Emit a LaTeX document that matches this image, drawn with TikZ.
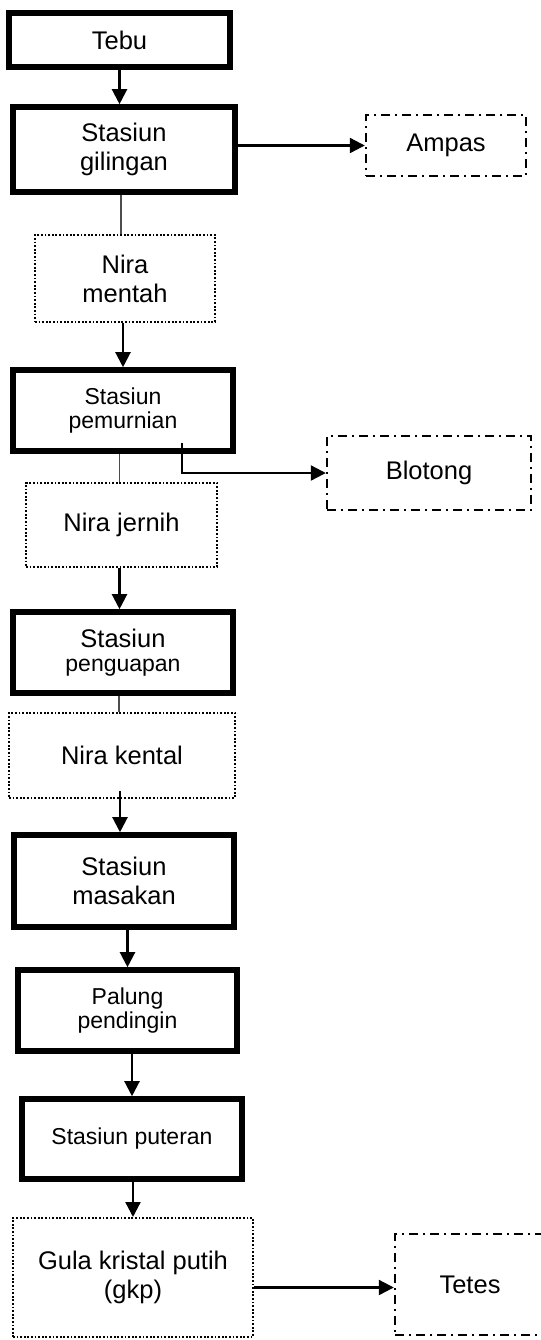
\documentclass[tikz,border=0pt]{standalone}
\usepackage{fontspec}
\setmainfont{Liberation Sans}
\usetikzlibrary{arrows.meta,calc}
\begin{document}
\begin{tikzpicture}[x=0.5pt,y=-0.5pt,
  big/.style={font=\fontsize{12.75pt}{14.5pt}\selectfont},
  small/.style={font=\fontsize{11.5pt}{12pt}\selectfont},
  stationbox/.style={draw, line width=2.8pt, align=center, inner sep=0pt},
  productbox/.style={draw, line width=1pt, dash pattern=on 0.9pt off 0.9pt, align=center, inner sep=0pt},
  wastebox/.style={draw, line width=1.2pt, dash pattern=on 4.5pt off 2.5pt on 1pt off 2.5pt, align=center, inner sep=0pt},
  arr/.style={line width=1.1pt, -{Triangle[length=7.5pt,width=7.5pt]}},
  thinline/.style={line width=0.6pt, black!70}]
\clip (0,0) rectangle (541,1340);
% stations
\node[stationbox, big, minimum width=110.5pt, minimum height=27pt] (tebu) at (119.5,40) {Tebu};
\node[stationbox, big, minimum width=111pt, minimum height=42.5pt] (gilingan) at (124,149.5) {Stasiun\\gilingan};
\node[stationbox, small, minimum width=110pt, minimum height=40.5pt] (pemurnian) at (123,410.5) {Stasiun\\pemurnian};
\node[stationbox, minimum width=110pt, minimum height=40.5pt] (penguapan) at (123,652.5) {{\fontsize{12.75pt}{14.5pt}\selectfont Stasiun}\\{\fontsize{11.5pt}{12pt}\selectfont penguapan}};
\node[stationbox, big, minimum width=110pt, minimum height=46pt] (masakan) at (124,881) {Stasiun\\masakan};
\node[stationbox, small, minimum width=109.5pt, minimum height=40.5pt] (palung) at (127.5,1010.5) {Palung\\pendingin};
\node[stationbox, small, minimum width=110pt, minimum height=40pt] (puteran) at (132,1139) {Stasiun puteran};
% products
\node[productbox, big, minimum width=90pt, minimum height=43.5pt] (mentah) at (125,278.5) {Nira\\mentah};
\node[productbox, big, minimum width=95.5pt, minimum height=42pt] (jernih) at (121.5,525) {Nira jernih};
\node[productbox, big, minimum width=113pt, minimum height=42.5pt] (kental) at (122,755.5) {Nira kental};
\node[productbox, big, minimum width=120pt, minimum height=59.5pt] (gkp) at (133,1277.5) {Gula kristal putih\\(gkp)};
% wastes
\node[wastebox, big, minimum width=80pt, minimum height=30.5pt] (ampas) at (446,145.5) {Ampas};
\node[wastebox, big, minimum width=102pt, minimum height=37pt] (blotong) at (429,473) {Blotong};
\node[wastebox, big, minimum width=75pt, minimum height=50.5pt] (tetes) at (470,1284.5) {Tetes};
% connectors
\draw[arr] (tebu) -- (tebu |- gilingan.north);
\draw[arr] (gilingan.east |- ampas.west) -- (ampas.west);
\draw[thinline] ([xshift=-2pt]mentah.north) -- ([xshift=-2pt]mentah.north |- gilingan.south);
\draw[arr] (mentah.south -| pemurnian.north) -- (pemurnian.north);
\draw[thinline] ([xshift=-1pt]jernih.north) -- ([xshift=-1pt]jernih.north |- pemurnian.south);
\draw[arr] ($(pemurnian.south)+(59,-11)$) |- (blotong.west);
\draw[arr] ([xshift=-1pt]jernih.south) -- ([xshift=-1pt]jernih.south |- penguapan.north);
\draw[thinline] ([xshift=-2pt]penguapan.south) -- ([xshift=-2pt]penguapan.south |- kental.north);
\draw[arr] ([xshift=-1pt,yshift=4pt]kental.south) -- ([xshift=-1pt]kental.south |- masakan.north);
\draw[arr] (masakan.south -| palung.north) -- (palung.north);
\draw[arr] (palung.south -| puteran.north) -- (puteran.north);
\draw[arr] (puteran.south -| gkp.north) -- (gkp.north);
\draw[arr] ([yshift=-1.5pt]gkp.east |- tetes.west) -- ([yshift=-1.5pt]tetes.west);
\end{tikzpicture}
\end{document}
